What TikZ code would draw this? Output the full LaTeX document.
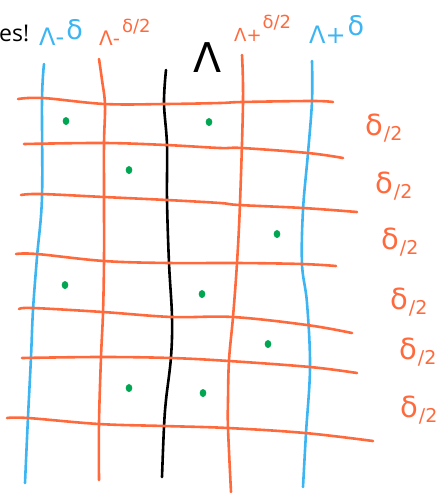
\documentclass[tikz,border=0pt]{standalone}
\usepackage{fontspec}
\setmainfont{Open Sans}
\newfontfamily\symfont{DejaVu Sans}
\definecolor{hOrange}{HTML}{FF6A3D}
\definecolor{hBlue}{HTML}{3DB5F2}
\definecolor{hGreen}{HTML}{00A651}
\newcommand\hdel{δ\kern0.5pt{\fontsize{19}{19}\selectfont\raisebox{-5pt}{/2}}}
\begin{document}
\begin{tikzpicture}[x=1pt,y=-1pt,
  pen/.style={line width=2.6pt, line cap=round, line join=round},
  orangeline/.style={pen, hOrange},
  blueline/.style={pen, hBlue},
  blackline/.style={pen, black},
  dot/.style={fill=hGreen},
  lbl/.style={inner sep=0pt, font=\symfont},
  halflbl/.style={lbl, text=hOrange, font=\symfont\fontsize{29}{29}\selectfont}]
\useasboundingbox (0,0) rectangle (437,493);
% vertical lines
\draw[blueline] plot[smooth, tension=0.6] coordinates {(44,64) (42,100) (42,197) (37,257) (33,310) (31,357) (28,417) (25,483)};
\draw[orangeline] plot[smooth, tension=0.6] coordinates {(99,59) (102,80) (105,105) (104,143) (104,197) (104,260) (103,313) (101,357) (99,423) (99,480)};
\draw[blackline] plot[smooth, tension=0.6] coordinates {(166,70) (164,103) (167,145) (167,200) (169,263) (172,317) (171,357) (166,400) (164,427) (162,477)};
\draw[orangeline] plot[smooth, tension=0.6] coordinates {(242,55) (243,102) (240,203) (237,263) (233,317) (229,360) (228,400) (228,428) (231,492)};
\draw[blueline] plot[smooth, tension=0.6] coordinates {(312,61) (312,101) (308,153) (303,210) (302,264) (307,303) (310,367) (306,433) (303,487)};
% horizontal lines
\draw[orangeline] plot[smooth, tension=0.6] coordinates {(18,99) (43,98) (105,104) (165,104) (220,103) (242,102) (312,101) (333,102)};
\draw[orangeline] plot[smooth, tension=0.6] coordinates {(24,144) (104,143) (166,145) (220,148) (242,148) (308,153) (343,158)};
\draw[orangeline] plot[smooth, tension=0.6] coordinates {(21,195) (41,194) (104,197) (167,200) (220,203) (239,205) (303,208) (357,212)};
\draw[orangeline] plot[smooth, tension=0.6] coordinates {(16,254) (37,254) (104,261) (169,263) (237,263) (302,264) (336,266)};
\draw[orangeline] plot[smooth, tension=0.6] coordinates {(19,309) (33,308) (103,312) (172,317) (233,317) (307,325) (352,333)};
\draw[orangeline] plot[smooth, tension=0.6] coordinates {(22,358) (101,357) (171,358) (229,361) (310,367) (357,373)};
\draw[orangeline] plot[smooth, tension=0.6] coordinates {(7,418) (28,418) (99,424) (164,426) (228,428) (305,433) (373,441)};
% green points
\foreach \p in {(66,121),(209,122),(129,170),(277,234),(65,285),(202,294),(268,344),(129,388),(203,393)}
  \fill[dot] \p ellipse [x radius=3.3pt, y radius=4pt];
% top labels
\node[inner sep=0pt, anchor=base west, font=\fontsize{23}{23}\selectfont] (yes) at (-1,41) {es!};
\node[lbl, anchor=base west, text=hBlue, font=\symfont\fontsize{24}{24}\selectfont] (lmd) at (39,45) {Λ-\kern2pt\raisebox{6pt}{\fontsize{27}{27}\selectfont δ}};
\node[lbl, anchor=base west, text=hOrange, font=\symfont\fontsize{20}{20}\selectfont] (lmh) at (99,45) {Λ-\kern2pt\raisebox{13pt}{\fontsize{18}{18}\selectfont δ/2}};
\node[lbl, anchor=base, font=\symfont\fontsize{41}{41}\selectfont] (lam) at (208,72) {Λ};
\node[lbl, anchor=base west, text=hOrange, font=\symfont\fontsize{18}{18}\selectfont] (lph) at (234,41) {Λ+\kern1pt\raisebox{13pt}{\fontsize{18}{18}\selectfont δ/2}};
\node[lbl, anchor=base west, text=hBlue, font=\symfont\fontsize{24}{24}\selectfont] (lpd) at (309,43) {Λ+\kern2pt\raisebox{8pt}{\fontsize{27}{27}\selectfont δ}};
% right labels
\node[halflbl] (h1) at (384,128) {\hdel};
\node[halflbl] (h2) at (394,186) {\hdel};
\node[halflbl] (h3) at (400,242) {\hdel};
\node[halflbl] (h4) at (409,302) {\hdel};
\node[halflbl] (h5) at (418,352) {\hdel};
\node[halflbl] (h6) at (419,410) {\hdel};
\end{tikzpicture}
\end{document}
